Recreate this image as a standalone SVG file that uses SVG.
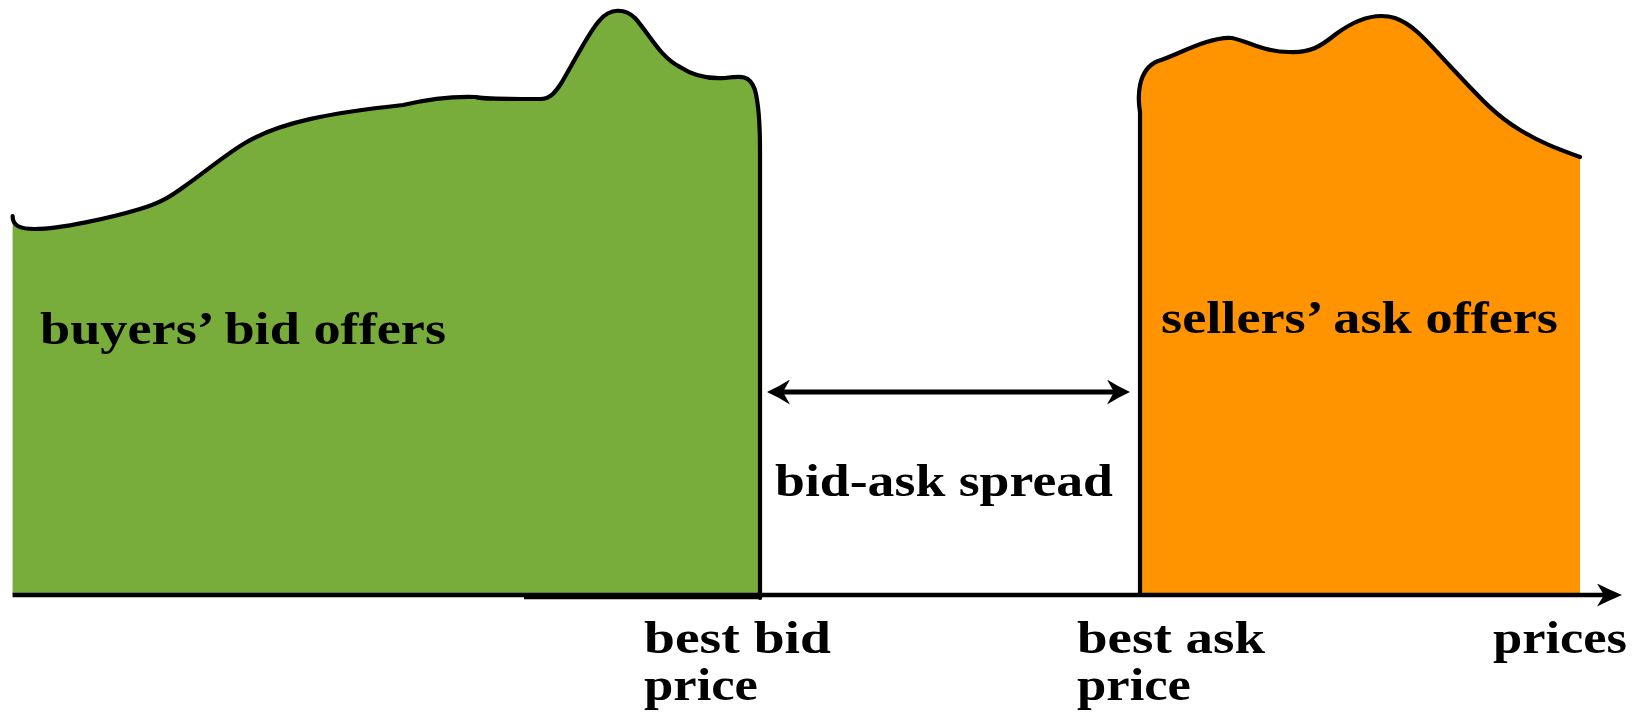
<svg xmlns="http://www.w3.org/2000/svg" width="1643" height="714" viewBox="0 0 1643 714">
<style>
.lbl{font-family:"Liberation Serif","Times New Roman",serif;font-weight:bold;font-size:46px;fill:#000}
.out{fill:none;stroke:#000;stroke-width:4.2;stroke-linejoin:round;stroke-linecap:round}
.ax{fill:none;stroke:#000;stroke-width:4.6}
.dbl{fill:none;stroke:#000;stroke-width:5}
</style>
<defs>
<marker id="hd" viewBox="0 0 23 25" refX="8" refY="12.5" markerWidth="23" markerHeight="25" markerUnits="userSpaceOnUse" orient="auto-start-reverse">
<path d="M23,12.5 Q11,7 0,0 L7,12.5 L0,25 Q11,18 23,12.5 Z" fill="#000"/>
</marker>
<marker id="axh" viewBox="0 0 25 23" refX="8" refY="11.5" markerWidth="25" markerHeight="23" markerUnits="userSpaceOnUse" orient="auto">
<path d="M25,11.5 Q12,6 0,0 L7,11.5 L0,23 Q12,17 25,11.5 Z" fill="#000"/>
</marker>
</defs>
<rect width="1643" height="714" fill="#fff"/>
<g id="bids">
<path d="M12.6,216 C12.6,226 20,229 35,229 C60,229 110,218 140,209 C160,203 170,197 185,186 C205,172 225,155 245,143 C280,122 330,113 403,105 C420,101 450,96 476,97 C480,99 500,99 540,99 C550,99 555,93 562,82 C575,60 590,30 600,20 C610,8 625,8 635,18 C650,35 660,57 680,67 C695,77 710,79 725,78 C740,76 750,74 755,90 C759,105 760,125 760,150 L760,595 L12.6,595 Z" fill="#79ad3b"/>
<path class="out" d="M12.6,216 C12.6,226 20,229 35,229 C60,229 110,218 140,209 C160,203 170,197 185,186 C205,172 225,155 245,143 C280,122 330,113 403,105 C420,101 450,96 476,97 C480,99 500,99 540,99 C550,99 555,93 562,82 C575,60 590,30 600,20 C610,8 625,8 635,18 C650,35 660,57 680,67 C695,77 710,79 725,78 C740,76 750,74 755,90 C759,105 760,125 760,150 L760,598"/>
<line class="ax" x1="524" y1="597" x2="762" y2="597"/>
<text class="lbl" x="40" y="344" textLength="406" lengthAdjust="spacingAndGlyphs">buyers’ bid offers</text>
</g>
<g id="asks">
<path d="M1140,593 L1140,112 C1138,100 1136,70 1158,61 C1175,56 1210,36 1232,38 C1250,42 1265,52 1289,52 C1310,53 1320,47 1336,34 C1355,20 1375,12 1395,18 C1415,25 1430,45 1450,66 C1480,98 1495,115 1520,130 C1540,142 1555,148 1580,157 L1580,593 Z" fill="#ff9400"/>
<path class="out" d="M1140,593 L1140,112 C1138,100 1136,70 1158,61 C1175,56 1210,36 1232,38 C1250,42 1265,52 1289,52 C1310,53 1320,47 1336,34 C1355,20 1375,12 1395,18 C1415,25 1430,45 1450,66 C1480,98 1495,115 1520,130 C1540,142 1555,148 1580,157"/>
<text class="lbl" x="1161" y="333" textLength="397" lengthAdjust="spacingAndGlyphs">sellers’ ask offers</text>
</g>
<g id="connectors">
<line class="ax" x1="12.6" y1="595" x2="1605" y2="595" marker-end="url(#axh)"/>
<line class="dbl" x1="782" y1="392" x2="1115" y2="392" marker-start="url(#hd)" marker-end="url(#hd)"/>
</g>
<g id="labels">
<text class="lbl" x="775" y="496" textLength="338" lengthAdjust="spacingAndGlyphs">bid-ask spread</text>
<text class="lbl" x="644" y="653" textLength="187" lengthAdjust="spacingAndGlyphs">best bid</text>
<text class="lbl" x="644" y="700" textLength="114" lengthAdjust="spacingAndGlyphs">price</text>
<text class="lbl" x="1077" y="653" textLength="188" lengthAdjust="spacingAndGlyphs">best ask</text>
<text class="lbl" x="1077" y="700" textLength="114" lengthAdjust="spacingAndGlyphs">price</text>
<text class="lbl" x="1493" y="653" textLength="134" lengthAdjust="spacingAndGlyphs">prices</text>
</g>
</svg>
